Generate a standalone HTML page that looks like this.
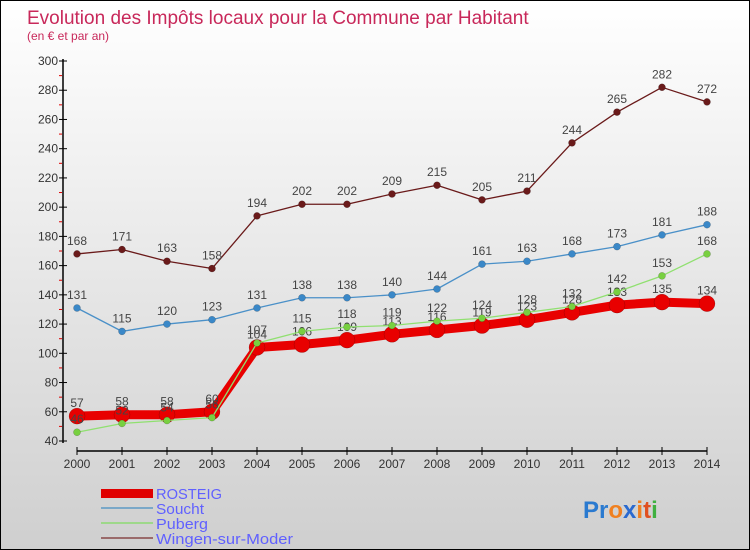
<!DOCTYPE html>
<html><head><meta charset="utf-8"><style>
body{margin:0}
#c{width:750px;height:550px;position:relative;overflow:hidden;background:linear-gradient(#ffffff,#cfcfcf);box-sizing:border-box;border:1px solid #000;font-family:"Liberation Sans",sans-serif}
svg text{font-family:"Liberation Sans",sans-serif}
</style></head><body>
<div id="c">
<svg id="s" width="750" height="550">
<text x="26" y="23" font-size="19" fill="#c8285a">Evolution des Impôts locaux pour la Commune par Habitant</text>
<text x="26" y="39" font-size="12" fill="#c8285a">(en € et par an)</text>
<g id="axes"></g><g id="series"></g>
<g>
<rect x="100" y="488" width="52" height="9" fill="#e00000"/>
<text x="155" y="498" font-size="15" textLength="66" lengthAdjust="spacingAndGlyphs" fill="#6060ff">ROSTEIG</text>
<line x1="100" y1="507" x2="152" y2="507" stroke="#7aa8c8" stroke-width="2"/>
<text x="155" y="513" font-size="15" textLength="48" lengthAdjust="spacingAndGlyphs" fill="#6060ff">Soucht</text>
<line x1="100" y1="522" x2="152" y2="522" stroke="#9ed88a" stroke-width="2"/>
<text x="155" y="528" font-size="15" textLength="52" lengthAdjust="spacingAndGlyphs" fill="#6060ff">Puberg</text>
<line x1="100" y1="537" x2="152" y2="537" stroke="#9a6a6a" stroke-width="2"/>
<text x="155" y="543" font-size="15" textLength="137" lengthAdjust="spacingAndGlyphs" fill="#6060ff">Wingen-sur-Moder</text>
</g>
<text x="582" y="517" font-size="24" font-weight="bold"><tspan fill="#2a7ad0">Pr</tspan><tspan fill="#f08020">o</tspan><tspan fill="#2a6ad0">x</tspan><tspan fill="#f08020">i</tspan><tspan fill="#e05020">t</tspan><tspan fill="#40b040">i</tspan></text>
</svg></div>
<script>
const years=[2000,2001,2002,2003,2004,2005,2006,2007,2008,2009,2010,2011,2012,2013,2014];
const rosteig=[57,58,58,60,104,106,109,113,116,119,123,128,133,135,134];
const soucht=[131,115,120,123,131,138,138,140,144,161,163,168,173,181,188];
const puberg=[46,52,54,56,107,115,118,119,122,124,128,132,142,153,168];
const wingen=[168,171,163,158,194,202,202,209,215,205,211,244,265,282,272];
const yTicks=[40,60,80,100,120,140,160,180,200,220,240,260,280,300];
const NS="http://www.w3.org/2000/svg";
const X=i=>76+i*45;
const Y=v=>440-(v-40)*380/260;
function mk(t,a,p){const e=document.createElementNS(NS,t);for(const k in a)e.setAttribute(k,a[k]);p.appendChild(e);return e;}
const ax=document.getElementById('axes');
let l=mk('line',{x1:62,y1:58,x2:62,y2:442,stroke:'#000','stroke-width':1.5},ax);


l=mk('line',{x1:76,y1:450,x2:706,y2:450,stroke:'#000','stroke-width':1.5},ax);


yTicks.forEach((v,i)=>{
 mk('line',{x1:58,y1:Y(v),x2:66,y2:Y(v),stroke:'#000'},ax);
 if(i<yTicks.length-1)mk('line',{x1:58,y1:Y(v+10),x2:61,y2:Y(v+10),stroke:'#e00000'},ax);
 const t=mk('text',{x:57,y:Y(v)+4,'font-size':12,'text-anchor':'end',fill:'#333'},ax);t.textContent=v;
 
 
});
years.forEach((y,i)=>{
 mk('line',{x1:X(i),y1:446,x2:X(i),y2:454,stroke:'#000'},ax);
 const t=mk('text',{x:X(i),y:467,'font-size':12,'text-anchor':'middle',fill:'#333'},ax);t.textContent=y;
 
 
});
const sg=document.getElementById('series');
function draw(data,name,color,dot,w,r){
 const g=mk('g',{},sg);
 
 
 const p=mk('polyline',{points:data.map((v,i)=>X(i)+','+Y(v)).join(' '),fill:'none',stroke:color,'stroke-width':w,'stroke-linejoin':'round'},g);
 
 
 data.forEach((v,i)=>{
  const c=mk('circle',{cx:X(i),cy:Y(v),r:r,fill:dot,stroke:'rgba(0,0,0,0.3)','stroke-width':0.5},g);
  
  
  const t=mk('text',{x:X(i),y:Y(v)-9,'font-size':12,'text-anchor':'middle',fill:'#444'},g);t.textContent=v;
  
  
 });
}
draw(wingen,'wingen','#6a1a1a','#6a1a1a',1.3,3.5);
draw(soucht,'soucht','#4a90c8','#3a88c8',1.3,3.5);
draw(rosteig,'rosteig','#e80000','#e80000',9,8);
draw(puberg,'puberg','#90e070','#78d040',1.3,3.5);
</script>
</body></html>
